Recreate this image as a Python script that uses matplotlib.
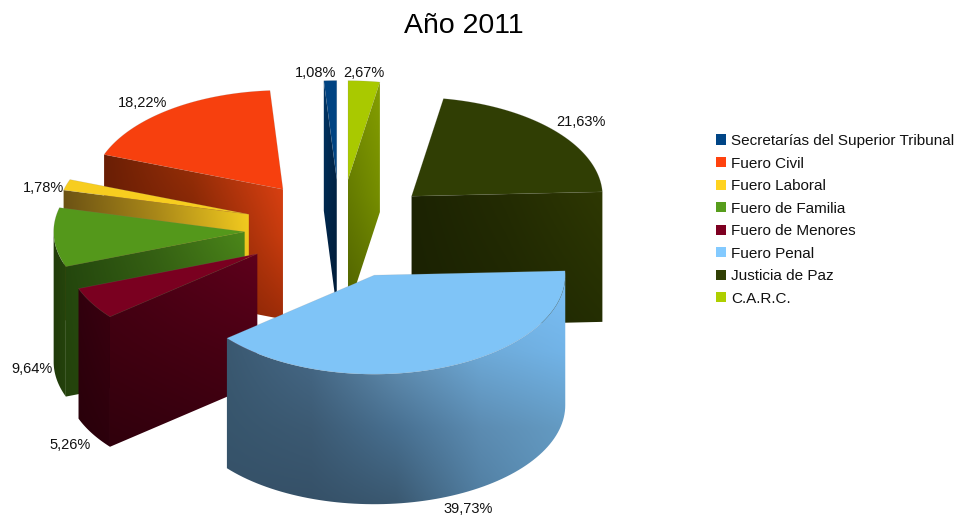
import numpy as np
import matplotlib
matplotlib.use('Agg')
import matplotlib.pyplot as plt
from matplotlib.colors import to_rgb
from matplotlib.patches import Polygon, Patch

plt.rcParams['font.family'] = ['Liberation Sans', 'DejaVu Sans']

categorias = ['Secretarías del Superior Tribunal', 'Fuero Civil', 'Fuero Laboral', 'Fuero de Familia',
              'Fuero de Menores', 'Fuero Penal', 'Justicia de Paz', 'C.A.R.C.']
valores = [1.08, 18.22, 1.78, 9.64, 5.26, 39.73, 21.63, 2.67]
colores = ['#004586', '#ff420e', '#ffd320', '#579d1c', '#7e0021', '#83caff', '#314004', '#aecf00']

# proyeccion de la torta (todo en pixeles de la imagen)
CX, CY = 340, 229
RX, RY = 191, 99
ALTO = 130
EXPLOSION = 0.5

# sombreado de las caras: filas de arriba a abajo, colores RGB
caras_radiales = {
    0: [[(0, 55, 105), (0, 40, 80)], [(0, 30, 60), (0, 28, 55)]],
    1: [[(105, 30, 5), (155, 48, 8), (228, 66, 20)], [(105, 30, 5), (125, 36, 5), (200, 60, 14)],
        [(100, 28, 5), (115, 32, 5), (158, 44, 8)]],
    2: [[(108, 82, 20), (172, 138, 25), (246, 206, 32)], [(100, 76, 18), (150, 120, 22), (225, 188, 28)]],
    3: [[(36, 72, 14), (55, 100, 20), (76, 136, 26)], [(36, 66, 12), (42, 76, 14), (50, 90, 16)]],
    4: [[(72, 0, 20), (85, 0, 24), (95, 0, 28)], [(62, 0, 16), (68, 0, 18), (74, 0, 20)],
        [(48, 0, 12), (52, 0, 14), (58, 0, 15)]],
    6: [[(28, 35, 2), (36, 44, 3), (46, 56, 3)], [(26, 33, 2), (30, 38, 2), (36, 46, 3)]],
    7: [[(118, 142, 0), (132, 158, 0)], [(100, 122, 0), (118, 142, 0)], [(80, 98, 0), (92, 112, 0)]],
}
caras_arco = {
    3: [[(34, 62, 10), (38, 70, 12)], [(32, 58, 10), (36, 66, 12)]],
    4: [[(50, 0, 14), (60, 0, 16)], [(40, 0, 10), (44, 0, 12)]],
    5: [[(58, 88, 112), (72, 108, 138), (102, 148, 184), (122, 190, 242), (124, 192, 246)],
        [(58, 88, 112), (70, 105, 135), (100, 145, 180), (110, 170, 216), (114, 180, 232)],
        [(55, 85, 108), (60, 90, 115), (72, 112, 145), (92, 140, 178), (100, 155, 195)],
        [(53, 80, 103), (53, 80, 103), (58, 88, 112), (80, 125, 160), (95, 150, 190)]],
}

posiciones_etiquetas = [(316, 73), (364, 73), (143, 103), (44, 188), (32, 369), (70, 445), (468, 509), (581, 122)]
# porcion que corresponde a cada posicion
orden_etiquetas = [0, 7, 1, 2, 3, 4, 5, 6]
orden_dibujo = [1, 6, 7, 0, 2, 3, 4, 5]


def punto(apice, ang, radio=1.0):
    a = np.radians(ang)
    return apice[0] + RX * radio * np.cos(a), apice[1] - RY * radio * np.sin(a)


def pintar_cara(ax, pts, filas, z):
    pts = np.array(pts)
    x0, y0 = pts.min(axis=0)
    x1, y1 = pts.max(axis=0)
    grid = np.array(filas, dtype=float) / 255
    nf, nc = grid.shape[:2]
    # los nodos de la grilla caen sobre los bordes de la caja
    dx = (x1 - x0) / max(nc - 1, 1) / 2
    dy = (y1 - y0) / max(nf - 1, 1) / 2
    im = ax.imshow(grid, extent=(x0 - dx, x1 + dx, y1 + dy, y0 - dy), interpolation='bilinear',
                   aspect='auto', zorder=z)
    im.set_clip_path(Polygon(pts, closed=True, transform=ax.transData))


fig = plt.figure(figsize=(9.6, 5.19), dpi=100)
ax = fig.add_axes([0, 0, 1, 1])

total = sum(valores)
inicio = 90.0
limites = []
for v in valores:
    limites.append((inicio, inicio + v / total * 360))
    inicio += v / total * 360

z = 2
for i in orden_dibujo:
    a0, a1 = limites[i]
    medio = (a0 + a1) / 2
    apice = punto((CX, CY), medio, EXPLOSION)
    angs = np.linspace(a0, a1, 80)
    arco = [punto(apice, a) for a in angs]

    if i in caras_arco:
        # solo se ve la parte del arco que mira hacia adelante
        frente = np.linspace(max(a0, 180), min(a1, 360), 80)
        alto = [punto(apice, a) for a in frente]
        bajo = [(x, y + ALTO) for x, y in alto]
        pintar_cara(ax, alto + bajo[::-1], caras_arco[i], z)
        z += 1
    if i in caras_radiales:
        borde = arco[-1] if i != 6 and i != 7 else arco[0]
        radial = [apice, borde, (borde[0], borde[1] + ALTO), (apice[0], apice[1] + ALTO)]
        pintar_cara(ax, radial, caras_radiales[i], z)
        z += 1
    cara = tuple(c * 0.97 for c in to_rgb(colores[i]))
    ax.add_patch(Polygon([apice] + arco, closed=True, facecolor=cara, edgecolor=(0.5, 0.5, 0.5, 0.2),
                         linewidth=0.5, zorder=z))
    z += 1

for k, i in enumerate(orden_etiquetas):
    texto = f'{valores[i]:.2f}'.replace('.', ',') + '%'
    ax.text(posiciones_etiquetas[k][0], posiciones_etiquetas[k][1], texto, fontsize=10.5, color='#111111',
            ha='center', va='center', zorder=50)

ax.text(464, 26, 'Año 2011', fontsize=20.5, ha='center', va='center', color='black', zorder=50)

handles = [Patch(facecolor=c, edgecolor='none', label=n) for c, n in zip(colores, categorias)]
ax.legend(handles=handles, loc='upper left', bbox_to_anchor=(716 / 960, 1 - 134 / 519), frameon=False,
          fontsize=11, handlelength=0.66, handleheight=0.66, handletextpad=0.33, labelspacing=0.557,
          borderpad=0, borderaxespad=0, labelcolor='#111111')

ax.set_xlim(0, 960)
ax.set_ylim(519, 0)
ax.axis('off')

fig.savefig('out.png', dpi=100)
